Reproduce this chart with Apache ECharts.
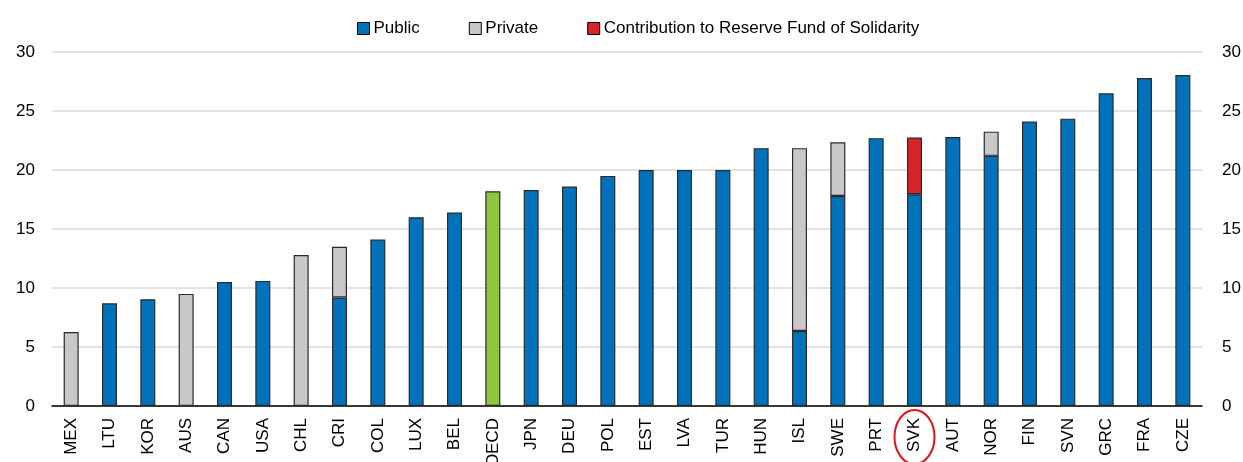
<!DOCTYPE html>
<html>
<head>
    <meta charset="utf-8">
    <script src="https://cdn.jsdelivr.net/npm/echarts@6/dist/echarts.min.js"></script>
    <title>Pension spending</title>
    <style>
        body { margin: 0; background: #fff; }
    </style>
</head>
<body>
    <div id="main" style="width:1243px; height:462px;"></div>
    <script type="text/javascript">
        var countries = ['MEX', 'LTU', 'KOR', 'AUS', 'CAN', 'USA', 'CHL', 'CRI', 'COL', 'LUX',
            'BEL', 'OECD', 'JPN', 'DEU', 'POL', 'EST', 'LVA', 'TUR', 'HUN', 'ISL',
            'SWE', 'PRT', 'SVK', 'AUT', 'NOR', 'FIN', 'SVN', 'GRC', 'FRA', 'CZE'];
        var publicVals = [null, 8.7, 9.05, null, 10.5, 10.6, null, 9.2, 14.1, 16.0,
            16.4, 18.2, 18.3, 18.6, 19.5, 20.0, 20.0, 20.0, 21.85, 6.35,
            17.8, 22.7, 17.95, 22.8, 21.2, 24.1, 24.35, 26.5, 27.8, 28.05];
        var privateVals = [6.27, null, null, 9.5, null, null, 12.8, 4.3, null, null,
            null, null, null, null, null, null, null, null, null, 15.5,
            4.55, null, null, null, 2.05, null, null, null, null, null];
        var reserveVals = [null, null, null, null, null, null, null, null, null, null,
            null, null, null, null, null, null, null, null, null, null,
            null, null, 4.8, null, null, null, null, null, null, null];

        var font = '"Liberation Sans", Arial, sans-serif';
        var edge = '#2b2b2b';

        // OECD average is shown in green
        var publicData = publicVals.map(function (v, i) {
            if (countries[i] === 'OECD') {
                return { value: v, itemStyle: { color: '#8DC63F' } };
            }
            return v;
        });

        var legendItem = function (name) {
            return { name: name, icon: 'rect', itemStyle: { borderColor: '#000', borderWidth: 1 } };
        };

        var chart = echarts.init(document.getElementById('main'));

        var option = {
            animation: false,
            textStyle: { fontFamily: font },
            legend: {
                top: 20,
                left: 357,
                padding: 0,
                itemWidth: 12,
                itemHeight: 12,
                itemGap: 49,
                textStyle: { fontSize: 17, color: '#000', fontFamily: font, padding: [0, 0, 0, -1] },
                data: [
                    legendItem('Public'),
                    legendItem('Private'),
                    legendItem('Contribution to Reserve Fund of Solidarity')
                ]
            },
            grid: { left: 52, right: 41, top: 52, bottom: 56, containLabel: false, outerBoundsMode: 'none' },
            xAxis: {
                type: 'category',
                data: countries,
                axisLine: { lineStyle: { color: '#000', width: 1.5 } },
                axisTick: { inside: true, length: 5, lineStyle: { color: '#000', width: 1.5 } },
                axisLabel: { rotate: 90, fontSize: 17, color: '#000', margin: 12, interval: 0 }
            },
            yAxis: [
                {
                    type: 'value', min: 0, max: 30, interval: 5, position: 'left',
                    axisLine: { show: false }, axisTick: { show: false },
                    axisLabel: { fontSize: 17, color: '#000', margin: 17 },
                    splitLine: { lineStyle: { color: '#d9d9d9', width: 1.5 } }
                },
                {
                    type: 'value', min: 0, max: 30, interval: 5, position: 'right',
                    axisLine: { show: false }, axisTick: { show: false },
                    axisLabel: { fontSize: 17, color: '#000', margin: 20 },
                    splitLine: { show: false }
                }
            ],
            series: [
                {
                    name: 'Public', type: 'bar', stack: 'total', barWidth: 15,
                    itemStyle: { color: '#0072BC', borderColor: edge, borderWidth: 1.2 },
                    data: publicData
                },
                {
                    name: 'Private', type: 'bar', stack: 'total', barWidth: 15,
                    itemStyle: { color: '#C8C8C8', borderColor: edge, borderWidth: 1.2 },
                    data: privateVals
                },
                {
                    name: 'Contribution to Reserve Fund of Solidarity', type: 'bar', stack: 'total', barWidth: 15,
                    itemStyle: { color: '#D7232A', borderColor: edge, borderWidth: 1.2 },
                    data: reserveVals
                }
            ]
        };
        chart.setOption(option);

        // red ring around the Slovak label
        var p = chart.convertToPixel({ xAxisIndex: 0, yAxisIndex: 0 }, ['SVK', 0]);
        chart.setOption({
            graphic: [{
                type: 'ellipse',
                shape: { cx: p[0], cy: p[1] + 31, rx: 20, ry: 27 },
                style: { fill: null, stroke: '#E3141B', lineWidth: 2 },
                z: 100
            }]
        });
    </script>
</body>
</html>
